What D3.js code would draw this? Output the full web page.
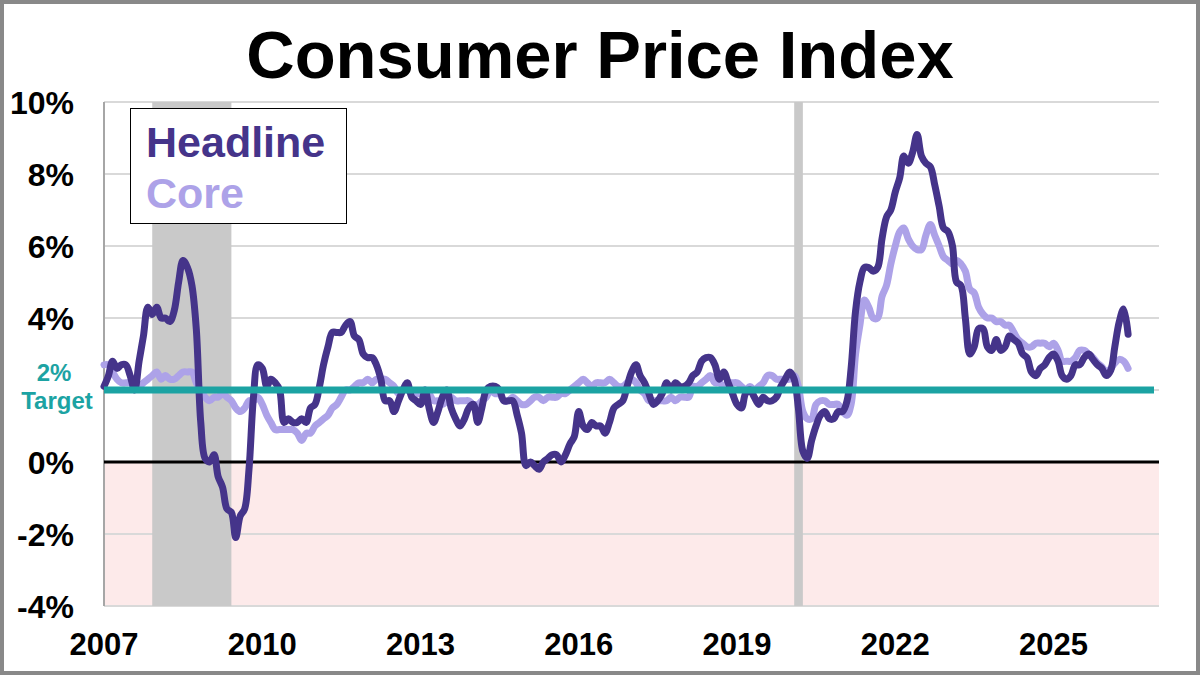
<!DOCTYPE html>
<html>
<head>
<meta charset="utf-8">
<script src="https://cdn.jsdelivr.net/npm/d3@7"></script>
<style>
  body { margin: 0; background: #fff; }
  svg { display: block; font-family: "Liberation Sans", Arial, sans-serif; font-weight: bold; }
</style>
</head>
<body>
<script>
// monthly year-over-year % change, Jan 2007 .. Jun 2026
var firstMonth = "2007-01";
var headline = [
  2.1, 2.4, 2.8, 2.6, 2.7, 2.7, 2.4, 2.0, 2.8, 3.5, 4.3, 4.1,
  4.3, 4.0, 4.0, 3.9, 4.2, 5.0, 5.6, 5.4, 4.9, 3.7, 1.1, 0.1,
  0.0, 0.2, -0.4, -0.7, -1.3, -1.4, -2.1, -1.5, -1.3, -0.2, 1.8, 2.7,
  2.6, 2.1, 2.3, 2.2, 2.0, 1.1, 1.2, 1.1, 1.1, 1.2, 1.1, 1.5,
  1.6, 2.1, 2.7, 3.2, 3.6, 3.6, 3.6, 3.8, 3.9, 3.5, 3.4, 3.0,
  2.9, 2.9, 2.7, 2.3, 1.7, 1.7, 1.4, 1.7, 2.0, 2.2, 1.8, 1.7,
  1.6, 2.0, 1.5, 1.1, 1.4, 1.8, 2.0, 1.5, 1.2, 1.0, 1.2, 1.5,
  1.6, 1.1, 1.5, 2.0, 2.1, 2.1, 2.0, 1.7, 1.7, 1.7, 1.3, 0.8,
  -0.1, 0.0, -0.1, -0.2, 0.0, 0.1, 0.2, 0.2, 0.0, 0.2, 0.5, 0.7,
  1.4, 1.0, 0.9, 1.1, 1.0, 1.0, 0.8, 1.1, 1.5, 1.6, 1.7, 2.1,
  2.5, 2.7, 2.4, 2.2, 1.9, 1.6, 1.7, 1.9, 2.2, 2.0, 2.2, 2.1,
  2.1, 2.2, 2.4, 2.5, 2.8, 2.9, 2.9, 2.7, 2.3, 2.5, 2.2, 1.9,
  1.6, 1.5, 1.9, 2.0, 1.8, 1.6, 1.8, 1.7, 1.7, 1.8, 2.1, 2.3,
  2.5, 2.3, 1.5, 0.3, 0.1, 0.6, 1.0, 1.3, 1.4, 1.2, 1.2, 1.4,
  1.4, 1.7, 2.6, 4.2, 5.0, 5.4, 5.4, 5.3, 5.4, 6.2, 6.8, 7.0,
  7.5, 7.9, 8.5, 8.3, 8.6, 9.1, 8.5, 8.3, 8.2, 7.7, 7.1, 6.5,
  6.4, 6.0, 5.0, 4.9, 4.0, 3.0, 3.2, 3.7, 3.7, 3.2, 3.1, 3.4,
  3.1, 3.2, 3.5, 3.4, 3.3, 3.0, 2.9, 2.5, 2.4, 2.6, 2.7, 2.9,
  3.0, 2.8, 2.4, 2.3, 2.4, 2.7, 2.7, 2.9, 3.0, 2.85, 2.7, 2.6,
  2.4, 2.55, 3.2, 3.9, 4.25, 3.55
];
var core = [
  2.7, 2.7, 2.5, 2.3, 2.2, 2.2, 2.2, 2.1, 2.1, 2.2, 2.3, 2.4,
  2.5, 2.3, 2.4, 2.3, 2.3, 2.4, 2.5, 2.5, 2.5, 2.2, 2.0, 1.8,
  1.7, 1.8, 1.8, 1.9, 1.8, 1.7, 1.5, 1.4, 1.5, 1.7, 1.7, 1.8,
  1.6, 1.3, 1.1, 0.9, 0.9, 0.9, 0.9, 0.9, 0.8, 0.6, 0.8, 0.8,
  1.0, 1.1, 1.2, 1.3, 1.5, 1.6, 1.8, 2.0, 2.0, 2.1, 2.2, 2.2,
  2.3, 2.2, 2.3, 2.3, 2.3, 2.2, 2.1, 1.9, 2.0, 2.0, 1.9, 1.9,
  1.9, 2.0, 1.9, 1.7, 1.7, 1.6, 1.7, 1.8, 1.7, 1.7, 1.7, 1.7,
  1.6, 1.6, 1.7, 1.8, 2.0, 1.9, 1.9, 1.7, 1.7, 1.8, 1.7, 1.6,
  1.6, 1.7, 1.8, 1.8, 1.7, 1.8, 1.8, 1.8, 1.9, 1.9, 2.0, 2.1,
  2.2, 2.3, 2.2, 2.1, 2.2, 2.2, 2.2, 2.3, 2.2, 2.1, 2.1, 2.2,
  2.3, 2.2, 2.0, 1.9, 1.7, 1.7, 1.7, 1.7, 1.7, 1.8, 1.7, 1.8,
  1.8, 1.8, 2.1, 2.1, 2.2, 2.3, 2.4, 2.2, 2.2, 2.1, 2.2, 2.2,
  2.2, 2.1, 2.0, 2.1, 2.0, 2.1, 2.2, 2.4, 2.4, 2.3, 2.3, 2.3,
  2.3, 2.4, 2.1, 1.4, 1.2, 1.2, 1.6, 1.7, 1.7, 1.6, 1.6, 1.6,
  1.4, 1.3, 1.6, 3.0, 3.8, 4.5, 4.3, 4.0, 4.0, 4.6, 4.9, 5.5,
  6.0, 6.4, 6.5, 6.2, 6.0, 5.9, 5.9, 6.3, 6.6, 6.3, 6.0, 5.7,
  5.6, 5.5, 5.6, 5.5, 5.3, 4.8, 4.7, 4.3, 4.1, 4.0, 4.0, 3.9,
  3.9, 3.8, 3.8, 3.6, 3.4, 3.3, 3.2, 3.2, 3.3, 3.3, 3.3, 3.2,
  3.3, 3.1, 2.8, 2.8, 2.8, 2.9, 3.1, 3.1, 3.0, 2.9, 2.75, 2.65,
  2.5, 2.6, 2.75, 2.85, 2.8, 2.6
];
var recessions = [["2007-12", "2009-06"], ["2020-02", "2020-04"]];
var yTicks = [-4, -2, 0, 2, 4, 6, 8, 10];
var xTickYears = [2007, 2010, 2013, 2016, 2019, 2022, 2025];
var target = 2;

var width = 1200, height = 675;
var plotLeft = 104, plotRight = 1159, plotTop = 102, plotBottom = 606;

var parseMonth = d3.timeParse("%Y-%m");
var start = parseMonth(firstMonth);
function monthDate(i) { return d3.timeMonth.offset(start, i); }

var x = d3.scaleTime()
    .domain([new Date(2007, 0, 1), new Date(2027, 0, 1)])
    .range([plotLeft, plotRight]);
var y = d3.scaleLinear()
    .domain([-4, 10])
    .range([plotBottom, plotTop]);

var svg = d3.select("body").append("svg")
    .attr("width", width)
    .attr("height", height);

svg.append("rect").attr("width", width).attr("height", height).attr("fill", "#fff");

// below-zero shading
svg.append("rect")
    .attr("x", plotLeft).attr("y", y(0))
    .attr("width", plotRight - plotLeft).attr("height", y(-4) - y(0))
    .attr("fill", "#fdeaea");

// gridlines
svg.append("g").selectAll("line").data(yTicks.filter(function(d){return d !== 0;}))
  .enter().append("line")
    .attr("x1", plotLeft).attr("x2", plotRight)
    .attr("y1", function(d){return y(d);}).attr("y2", function(d){return y(d);})
    .attr("stroke", "#d9d9d9").attr("stroke-width", 2);

// recession bars
svg.append("g").selectAll("rect").data(recessions)
  .enter().append("rect")
    .attr("x", function(d){return x(parseMonth(d[0]));})
    .attr("width", function(d){return x(parseMonth(d[1])) - x(parseMonth(d[0]));})
    .attr("y", plotTop).attr("height", plotBottom - plotTop)
    .attr("fill", "#c9c9c9");

// left axis line
svg.append("line")
    .attr("x1", plotLeft).attr("x2", plotLeft).attr("y1", plotTop).attr("y2", plotBottom)
    .attr("stroke", "#a6a6a6").attr("stroke-width", 2);

// zero line
svg.append("line")
    .attr("x1", plotLeft).attr("x2", plotRight).attr("y1", y(0)).attr("y2", y(0))
    .attr("stroke", "#000").attr("stroke-width", 3);

var line = d3.line()
    .x(function(d, i){return x(monthDate(i));})
    .y(function(d){return y(d);})
    .curve(d3.curveCatmullRom.alpha(0.5));

svg.append("path").attr("d", line(core))
    .attr("fill", "none").attr("stroke", "#ada2e8").attr("stroke-width", 7)
    .attr("stroke-linejoin", "round").attr("stroke-linecap", "round");
svg.append("path").attr("d", line(headline))
    .attr("fill", "none").attr("stroke", "#45348a").attr("stroke-width", 7)
    .attr("stroke-linejoin", "round").attr("stroke-linecap", "round");

// 2% target
svg.append("line")
    .attr("x1", plotLeft).attr("x2", plotRight - 5).attr("y1", y(target)).attr("y2", y(target))
    .attr("stroke", "#1ca3a3").attr("stroke-width", 7);

// y axis labels
svg.append("g").selectAll("text").data(yTicks.filter(function(d){return d !== target;}))
  .enter().append("text")
    .attr("x", 74).attr("y", function(d){return y(d) + 11.5;})
    .attr("text-anchor", "end").attr("font-size", 32).attr("fill", "#000")
    .text(function(d){return d + "%";});

svg.append("text").attr("x", 54).attr("y", 381)
    .attr("text-anchor", "middle").attr("font-size", 24).attr("fill", "#1ca3a3")
    .text(target + "%");
svg.append("text").attr("x", 57).attr("y", 409)
    .attr("text-anchor", "middle").attr("font-size", 24).attr("fill", "#1ca3a3")
    .text("Target");

// x axis labels
svg.append("g").selectAll("text").data(xTickYears)
  .enter().append("text")
    .attr("x", function(d){return x(new Date(d, 0, 1));}).attr("y", 655)
    .attr("text-anchor", "middle").attr("font-size", 31).attr("fill", "#000")
    .text(function(d){return d;});

// title
svg.append("text").attr("x", 600).attr("y", 78)
    .attr("text-anchor", "middle").attr("font-size", 67).attr("fill", "#000")
    .text("Consumer Price Index");

// legend
svg.append("rect").attr("x", 130.5).attr("y", 108.5).attr("width", 216).attr("height", 115)
    .attr("fill", "#fff").attr("stroke", "#000").attr("stroke-width", 1);
svg.append("text").attr("x", 146).attr("y", 157)
    .attr("font-size", 43).attr("fill", "#45348a").text("Headline");
svg.append("text").attr("x", 146).attr("y", 208)
    .attr("font-size", 43).attr("fill", "#ada2e8").text("Core");

// outer frame
svg.append("rect").attr("x", 2).attr("y", 2).attr("width", width - 4).attr("height", height - 4)
    .attr("fill", "none").attr("stroke", "#898989").attr("stroke-width", 4);
</script>
</body>
</html>
